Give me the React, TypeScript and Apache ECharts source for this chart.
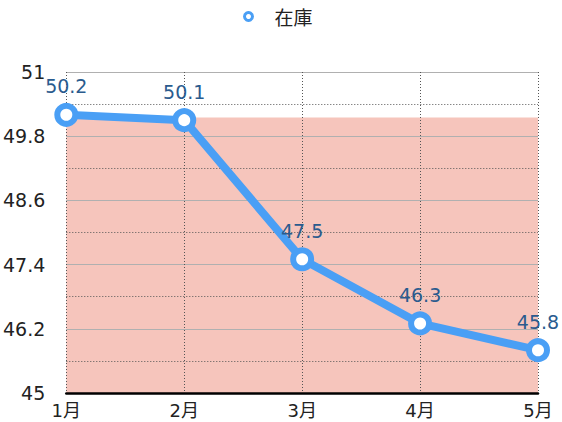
import React, { useEffect, useRef } from "react";
import * as echarts from "echarts";

const categories = ["1月", "2月", "3月", "4月", "5月"];
const stockValues = [50.2, 50.1, 47.5, 46.3, 45.8];
const seriesName = "在庫";
const yMin = 45;
const yMax = 51;
const yInterval = 1.2;
const bandFrom = 45;
const bandTo = 50.15;

const FONT = "'DejaVu Sans', 'Noto Sans CJK JP', sans-serif";

export default function App() {
  const ref = useRef<HTMLDivElement>(null);
  useEffect(() => {
    if (!ref.current) return;
    const chart = echarts.init(ref.current, undefined, { renderer: "svg" });
    chart.setOption({
      animation: false,
      textStyle: { fontFamily: FONT },
      legend: {
        top: 2,
        left: 238,
        data: [
          {
            name: seriesName,
            icon: "circle",
            itemStyle: { color: "#fff", borderColor: "#4a9ff5", borderWidth: 3 },
          },
        ],
        itemWidth: 42,
        itemHeight: 8,
        textStyle: { fontSize: 19, color: "#222", fontFamily: "'Noto Sans CJK JP', sans-serif" },
      },
      grid: { left: 65, right: 24, top: 72, bottom: 29 },
      xAxis: {
        type: "category",
        data: categories,
        boundaryGap: false,
        z: 2,
        axisLine: { lineStyle: { color: "#000", width: 2.5 } },
        axisTick: { show: false },
        axisLabel: { fontSize: 18, color: "#222", margin: 8, fontFamily: FONT },
        splitLine: { show: true, lineStyle: { color: "#555", type: [1, 2], width: 1 } },
      },
      yAxis: {
        type: "value",
        min: yMin,
        max: yMax,
        interval: yInterval,
        z: 2,
        axisLine: { show: false },
        axisTick: { show: false },
        axisLabel: { fontSize: 19, color: "#222", margin: 21, fontFamily: FONT },
        splitLine: { show: true, lineStyle: { color: "#b0b0b0", width: 1 } },
        minorTick: { show: false, splitNumber: 2 },
        minorSplitLine: { show: true, lineStyle: { color: "#555", type: [1, 2], width: 1 } },
      },
      series: [
        {
          name: seriesName,
          type: "line",
          data: stockValues,
          symbol: "circle",
          symbolSize: 18,
          lineStyle: { color: "#4a9ff5", width: 8 },
          itemStyle: { color: "#fff", borderColor: "#4a9ff5", borderWidth: 6 },
          label: {
            show: true,
            position: "top",
            distance: 7,
            fontSize: 19,
            color: "#2a5b8e",
            fontFamily: FONT,
          },
          z: 3,
          markArea: {
            silent: true,
            z: 1,
            itemStyle: { color: "#f6c5bc", opacity: 1 },
            data: [[{ yAxis: bandFrom }, { yAxis: bandTo }]],
          },
        },
      ],
    });
    return () => chart.dispose();
  }, []);
  return <div ref={ref} style={{ width: 562, height: 422, position: "absolute", left: 0, top: 0 }} />;
}
